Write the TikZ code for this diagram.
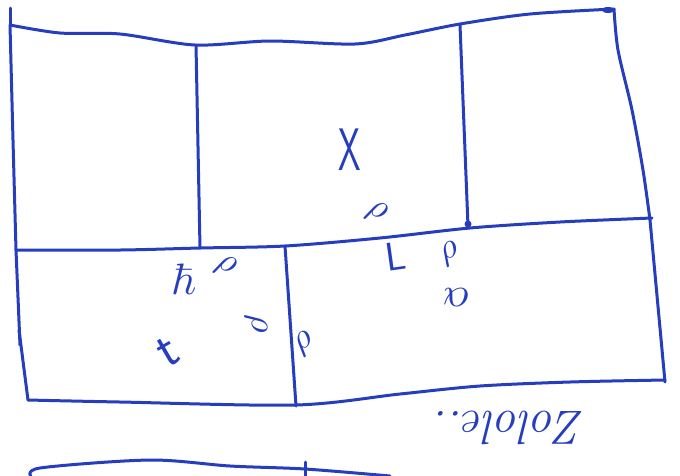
\documentclass[tikz,border=0pt]{standalone}
\usepackage{amsmath, amssymb}
\usepackage{tikz}
\definecolor{tinta}{RGB}{38, 62, 190}

\tikzset{
  trazo/.style={draw=tinta, line width=3pt, line cap=round, line join=round},
  letra/.style={text=tinta, inner sep=0pt, transform shape},
}

\begin{document}
\begin{tikzpicture}[x=1pt, y=-1pt]
        \useasboundingbox (0,0) rectangle (680,475);
        % upper row of rooms
        \draw[trazo] (10,8)--(10,25);
        \draw[trazo] plot[smooth] coordinates {(10,25) (60,33) (120,34) (195,45) (270,41) (355,44) (405,35) (460,24) (530,14) (614,9)};
        \fill[tinta] (608,10) ellipse (6pt and 3pt);
        \draw[trazo] plot[smooth] coordinates {(614,9) (618,50) (632,110) (643,170) (650,220)};
        \draw[trazo] plot[smooth] coordinates {(10,25) (13,140) (16,250)};
        \draw[trazo] (196,45)--(200,248);
        \draw[trazo] (460,25)--(468,226);
        \fill[tinta] (468,224) circle (3.5pt);
        % middle line
        \draw[trazo] plot[smooth] coordinates {(16,250) (120,250) (200,248) (285,246) (380,238) (470,228) (560,222) (652,218)};
        % lower row
        \draw[trazo] (16,250)--(20,345);
        \draw[trazo] (19,330)--(28,400);
        \draw[trazo] plot[smooth] coordinates {(28,400) (120,402) (296,405) (400,394) (480,386) (570,382) (665,380)};
        \draw[trazo] (650,220)--(665,382);
        \draw[trazo] (285,246)--(296,406);
        % next sheet, cut off
        \draw[trazo] plot[smooth] coordinates {(32,478) (40,468) (150,460) (230,466) (305,469) (390,476)};
        \draw[trazo] (305,462)--(305,478);
        % labels
        \node[letra, font=\fontsize{60}{60}\selectfont\sffamily, xscale=0.6] (x1) at (350,150) {X};
        \node[letra, scale=3.6, rotate=-30] (r1) at (377,212) {$\rho$};
        \node[letra, scale=4.4] (h1) at (183,279) {$\hbar$};
        \node[letra, scale=3.6, rotate=-30] (r2) at (226,266) {$\rho$};
        \node[letra, font=\fontsize{40}{40}\selectfont\sffamily, rotate=8] (l1) at (396,256) {L};
        \node[letra, scale=3.6, rotate=25] (r3) at (450,254) {$\rho$};
        \node[letra, scale=4.2, rotate=180] (a1) at (456,298) {$\alpha$};
        \node[letra, scale=3.6, rotate=-90] (r4) at (256,324) {$\rho$};
        \node[letra, scale=3.6, rotate=35] (r5) at (305,344) {$\rho$};
        \node[letra, font=\fontsize{52}{52}\selectfont\sffamily, rotate=30] (t1) at (168,352) {t};
        \node[letra, font=\fontsize{48}{48}\selectfont\itshape, rotate=180] (firma) at (510,428) {Zolole..};
      \end{tikzpicture}
\end{document}
